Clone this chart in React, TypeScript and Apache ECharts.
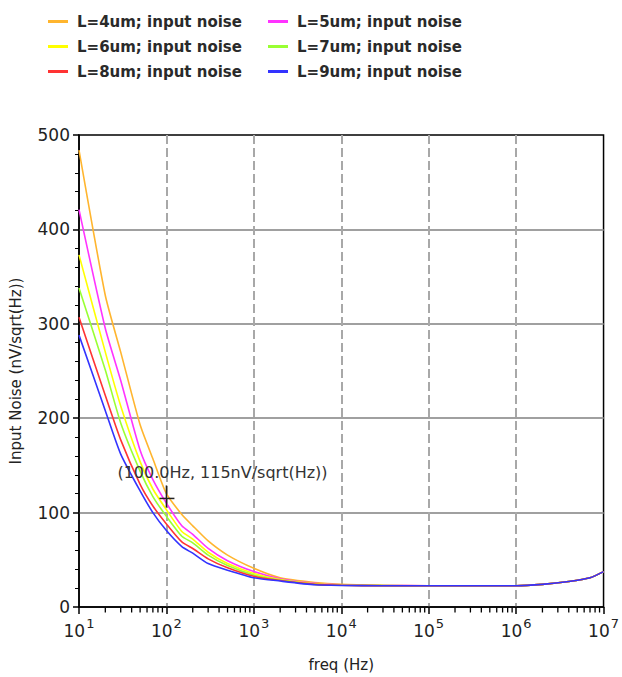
import React, { useEffect, useRef } from "react";
import * as echarts from "echarts";

const freqs = [10, 20, 30, 50, 70, 100, 150, 200, 300, 500, 1000, 2000, 5000, 1e4, 3e4, 1e5, 1e6, 2e6, 4e6, 7e6, 1e7];

const seriesNames = [
  "L=4um; input noise",
  "L=5um; input noise",
  "L=6um; input noise",
  "L=7um; input noise",
  "L=8um; input noise",
  "L=9um; input noise",
];
const seriesColors = ["#ffb52e", "#ff33ff", "#ffff00", "#99ff33", "#ff3333", "#3333ff"];

const noiseL4 = [484, 330, 270, 193, 157, 120, 98, 86, 70, 55, 41, 31, 26, 24, 23, 22.5, 22.5, 24, 27, 31, 37.5];
const noiseL5 = [421, 295, 240, 166, 135, 110, 86, 77, 62, 49, 37.5, 30, 25, 23.5, 22.8, 22.5, 22.5, 24, 27, 31, 37.5];
const noiseL6 = [373, 270, 213, 154, 125, 103, 80, 72, 58, 46, 35.5, 29, 24.5, 23.3, 22.7, 22.5, 22.5, 24, 27, 31, 37.5];
const noiseL7 = [338, 251, 195, 144, 117, 96, 75, 68, 55, 44, 34, 28.5, 24, 23, 22.6, 22.5, 22.5, 24, 27, 31, 37.5];
const noiseL8 = [307, 224, 177, 130, 107, 88, 69, 62, 51, 41.5, 32.5, 28, 24, 23, 22.5, 22.5, 22.5, 24, 27, 31, 37.5];
const noiseL9 = [288, 208, 162, 123, 100, 81, 64, 57, 46, 39, 31, 27.5, 23.5, 22.8, 22.5, 22.5, 22.5, 24, 27, 31, 37.5];
const allNoise = [noiseL4, noiseL5, noiseL6, noiseL7, noiseL8, noiseL9];

const yTicks = [0, 100, 200, 300, 400, 500];
const xDecades = [10, 100, 1000, 10000, 100000, 1000000, 10000000];
const minorMultipliers = [2, 3, 4, 5, 6, 7, 8, 9];

const cursorPoint = [100, 115];
const cursorLabel = "(100.0Hz, 115nV/sqrt(Hz))";

const FONT = "DejaVu Sans";

export default function App() {
  const ref = useRef<HTMLDivElement>(null);

  useEffect(() => {
    if (!ref.current) return;
    const chart = echarts.init(ref.current, null, { renderer: "svg" });

    const minorTicks: number[][] = [];
    for (let i = 0; i < xDecades.length - 1; i++) {
      for (const m of minorMultipliers) minorTicks.push([xDecades[i] * m, yTicks[0]]);
    }

    const lineSeries = seriesNames.map((name, i) => ({
      name,
      type: "line",
      data: freqs.map((f, j) => [f, allNoise[i][j]]),
      showSymbol: false,
      smooth: 0.2,
      lineStyle: { color: seriesColors[i], width: 1.6 },
      itemStyle: { color: seriesColors[i] },
      z: 3,
    }));

    const legendCommon = {
      orient: "vertical",
      top: 9,
      itemWidth: 20,
      itemHeight: 3,
      itemGap: 10,
      icon: "rect",
      textStyle: { fontFamily: FONT, fontSize: 15, fontWeight: "bold", color: "#2a2a2a", padding: [0, 0, 0, 4] },
    };

    chart.setOption({
      animation: false,
      backgroundColor: "#fff",
      legend: [
        { ...legendCommon, left: 43, data: [seriesNames[0], seriesNames[2], seriesNames[4]] },
        { ...legendCommon, left: 263, data: [seriesNames[1], seriesNames[3], seriesNames[5]] },
      ],
      grid: {
        left: 78,
        right: 17,
        top: 135,
        bottom: 62,
        show: true,
        borderColor: "#000",
        borderWidth: 1.5,
        containLabel: false,
      },
      xAxis: {
        type: "log",
        logBase: 10,
        min: xDecades[0],
        max: xDecades[xDecades.length - 1],
        splitNumber: 6,
        name: "freq (Hz)",
        nameLocation: "middle",
        nameGap: 50,
        nameTextStyle: { fontFamily: FONT, fontSize: 15, color: "#222" },
        axisLine: { lineStyle: { color: "#000", width: 1.5 } },
        axisTick: { show: true, length: 7, lineStyle: { color: "#000", width: 1.5 } },
        splitLine: { show: true, showMinLine: false, showMaxLine: false, lineStyle: { color: "#a8a8a8", width: 2, type: [9, 4] } },
        axisLabel: {
          margin: 10,
          formatter: (v: number) => `{b|10}{s|${Math.round(Math.log10(v))}}`,
          rich: {
            b: { fontFamily: FONT, fontSize: 17, color: "#222", lineHeight: 22, verticalAlign: "bottom" },
            s: { fontFamily: FONT, fontSize: 13, color: "#222", lineHeight: 22, padding: [0, 0, 9, 1] },
          },
        },
      },
      yAxis: {
        type: "value",
        min: yTicks[0],
        max: yTicks[yTicks.length - 1],
        interval: 100,
        name: "Input Noise (nV/sqrt(Hz))",
        nameLocation: "middle",
        nameGap: 56,
        nameTextStyle: { fontFamily: FONT, fontSize: 15, color: "#222" },
        axisLine: { show: true, lineStyle: { color: "#000", width: 1.5 } },
        axisTick: { show: true, length: 6, lineStyle: { color: "#000", width: 1.5 } },
        minorTick: { show: true, splitNumber: 5, length: 4, lineStyle: { color: "#000", width: 1 } },
        splitLine: { show: true, showMinLine: false, showMaxLine: false, lineStyle: { color: "#a0a0a0", width: 2 } },
        axisLabel: { fontFamily: FONT, fontSize: 17, color: "#222", margin: 9 },
      },
      series: [
        ...lineSeries,
        {
          type: "scatter",
          name: "minorTicks",
          data: minorTicks,
          symbol: "rect",
          symbolSize: [1.3, 5],
          symbolOffset: [0, 3],
          itemStyle: { color: "#000", opacity: 1 },
          clip: false,
          silent: true,
          z: 20,
        },
        {
          type: "custom",
          name: "cursor",
          data: [cursorPoint],
          clip: false,
          silent: true,
          z: 10,
          renderItem: (params: any, api: any) => {
            const p = api.coord([api.value(0), api.value(1)]);
            return {
              type: "group",
              children: [
                { type: "line", shape: { x1: p[0], y1: p[1] - 13, x2: p[0], y2: p[1] + 9 }, style: { stroke: "#222", lineWidth: 1.5 } },
                { type: "line", shape: { x1: p[0] - 7, y1: p[1], x2: p[0] + 8, y2: p[1] }, style: { stroke: "#222", lineWidth: 1.5 } },
                {
                  type: "text",
                  x: p[0] - 49,
                  y: p[1] - 26,
                  style: {
                    text: cursorLabel,
                    fontFamily: FONT,
                    fontSize: 16,
                    fill: "#333",
                    align: "left",
                    verticalAlign: "middle",
                  },
                },
              ],
            };
          },
        },
      ],
    });

    return () => chart.dispose();
  }, []);

  return <div ref={ref} style={{ position: "fixed", left: 0, top: 0, width: 622, height: 677 }} />;
}
